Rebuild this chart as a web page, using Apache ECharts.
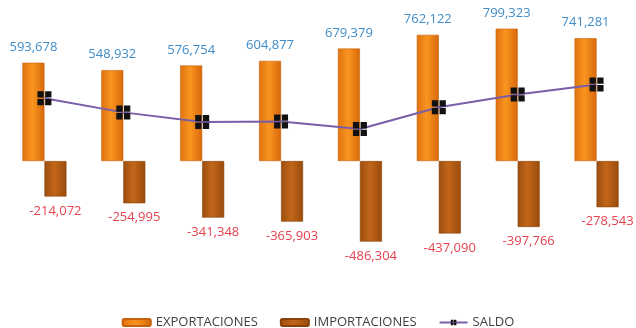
<!DOCTYPE html>
<html>
<head>
<meta charset="utf-8">
<script src="https://cdn.jsdelivr.net/npm/echarts@6/dist/echarts.min.js"></script>
<style>
  html, body { margin: 0; padding: 0; background: #ffffff; }
  #chart { width: 636px; height: 328px; }
</style>
</head>
<body>
<div id="chart"></div>
<script>
// categorías (sin etiquetas visibles en el eje)
const categories = ['1', '2', '3', '4', '5', '6', '7', '8'];
// valores
const exportaciones = [593678, 548932, 576754, 604877, 679379, 762122, 799323, 741281];
const importaciones = [-214072, -254995, -341348, -365903, -486304, -437090, -397766, -278543];
const saldo = [379606, 293937, 235406, 238974, 193075, 325032, 401557, 462738];

const chart = echarts.init(document.getElementById('chart'));

function fmt(v) {
    return v.toLocaleString('en-US');
}

// marcador cuadrado negro con cruz fina
const crossSquare = 'path://M0,0H5.4V5.4H0Z M6.6,0H12V5.4H6.6Z M0,6.6H5.4V12H0Z M6.6,6.6H12V12H6.6Z';

const option = {
    backgroundColor: '#ffffff',
    animation: false,
    textStyle: { fontFamily: 'Open Sans' },
    grid: { left: 5, right: 0, top: 12, bottom: 51 },
    legend: {
        top: 311,
        left: 'center',
        itemWidth: 28,
        itemHeight: 7,
        itemGap: 22,
        textStyle: { fontSize: 13, color: '#404040', fontFamily: 'Open Sans' },
        data: ['EXPORTACIONES', 'IMPORTACIONES', 'SALDO']
    },
    xAxis: {
        type: 'category',
        data: categories,
        axisLine: { show: false },
        axisTick: { show: false },
        axisLabel: { show: false }
    },
    yAxis: {
        type: 'value',
        min: -700000,
        max: 900000,
        show: false,
        splitLine: { show: false }
    },
    series: [
        {
            name: 'EXPORTACIONES',
            type: 'bar',
            data: exportaciones,
            barWidth: 22,
            barGap: '0%',
            itemStyle: {
                color: new echarts.graphic.LinearGradient(0, 0, 1, 0, [
                    { offset: 0, color: '#e0720f' },
                    { offset: 0.45, color: '#f8951f' },
                    { offset: 1, color: '#d8680b' }
                ]),
                borderColor: '#c86008',
                borderWidth: 0.6
            },
            label: {
                show: true,
                position: 'top',
                distance: 9,
                color: '#3f8cc8',
                fontSize: 13,
                fontFamily: 'Open Sans',
                formatter: p => fmt(p.value)
            }
        },
        {
            name: 'IMPORTACIONES',
            type: 'bar',
            data: importaciones,
            barWidth: 22,
            barGap: '0%',
            itemStyle: {
                color: new echarts.graphic.LinearGradient(0, 0, 1, 0, [
                    { offset: 0, color: '#9c4f0e' },
                    { offset: 0.45, color: '#c2661a' },
                    { offset: 1, color: '#9a4b0c' }
                ]),
                borderColor: '#874208',
                borderWidth: 0.6
            },
            label: {
                show: true,
                position: 'bottom',
                distance: 8,
                color: '#e6424f',
                fontSize: 13,
                fontFamily: 'Open Sans',
                formatter: p => fmt(p.value)
            }
        },
        {
            name: 'SALDO',
            type: 'line',
            data: saldo,
            z: 5,
            symbol: crossSquare,
            symbolSize: 14,
            lineStyle: { color: '#7a5ea8', width: 2 },
            itemStyle: { color: '#111111', borderColor: '#111111', borderWidth: 0 }
        }
    ]
};

chart.setOption(option);
</script>
</body>
</html>
